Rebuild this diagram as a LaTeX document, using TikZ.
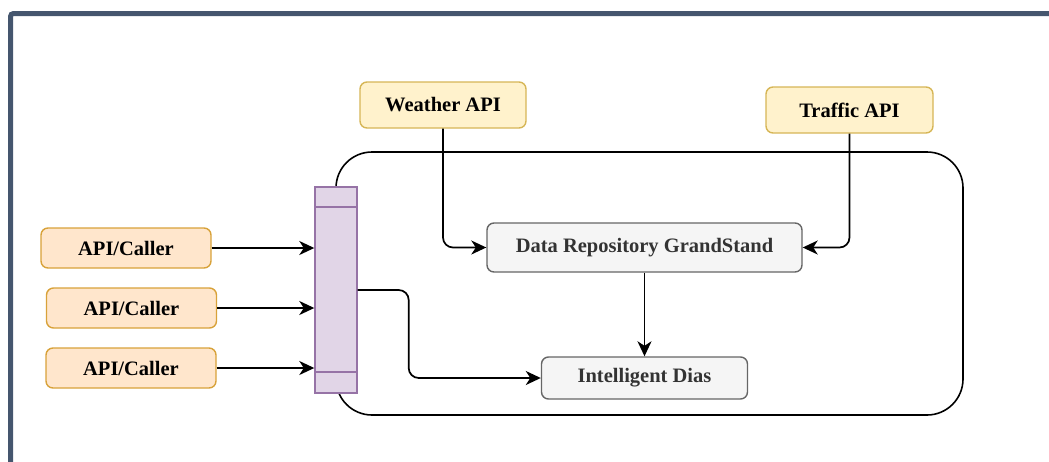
\documentclass[tikz,border=0pt]{standalone}
\usepackage{fontspec}
\setmainfont{Liberation Serif}
\usetikzlibrary{arrows.meta}
\definecolor{frameblue}{HTML}{45566E}
\definecolor{apifill}{HTML}{FFF2CC}
\definecolor{apistroke}{HTML}{D6B656}
\definecolor{callerfill}{HTML}{FFE6CC}
\definecolor{callerstroke}{HTML}{D8A23A}
\definecolor{gwfill}{HTML}{E1D5E7}
\definecolor{gwstroke}{HTML}{9673A6}
\definecolor{svcfill}{HTML}{F5F5F5}
\definecolor{svcstroke}{HTML}{666666}
\definecolor{svctext}{HTML}{333333}
\tikzset{
  box/.style={rectangle, rounded corners=7pt, line width=1.4pt, inner sep=0pt,
    font=\fontsize{20.5}{24}\selectfont\bfseries},
  extapi/.style={box, fill=apifill, draw=apistroke, text=black},
  caller/.style={box, fill=callerfill, draw=callerstroke, text=black,
    minimum width=170pt, minimum height=40pt},
  service/.style={box, fill=svcfill, draw=svcstroke, text=svctext},
  arr/.style={line width=1.7pt, rounded corners=10pt,
    -{Stealth[length=15pt, width=14pt, inset=4.5pt]}},
}
\begin{document}
\begin{tikzpicture}[x=1pt, y=-1pt]
  \useasboundingbox (0,0) rectangle (1049,461);
  % outer frame (runs off the right and bottom edges)
  \draw[frameblue, line width=5pt, rounded corners=3pt]
    (1060,13.5) -- (10.5,13.5) -- (10.5,470);
  % system boundary
  \draw[line width=1.6pt, rounded corners=36pt] (336,152) rectangle (963,415);
  % gateway bar
  \node[rectangle, fill=gwfill, draw=gwstroke, line width=1.4pt,
        minimum width=42pt, minimum height=206pt, inner sep=0pt]
        (bar) at (336,290) {};
  \draw[gwstroke, line width=1.4pt] (bar.west |- {(0,207)}) -- (bar.east |- {(0,207)});
  \draw[gwstroke, line width=1.4pt] (bar.west |- {(0,372)}) -- (bar.east |- {(0,372)});
  % external data sources
  \node[extapi, minimum width=166pt, minimum height=46pt] (weather) at (443,105) {Weather API};
  \node[extapi, minimum width=167pt, minimum height=46pt] (traffic) at (849.5,110) {Traffic API};
  % internal services
  \node[service, minimum width=315pt, minimum height=49pt] (data) at (644.5,247.5) {Data Repository GrandStand};
  \node[service, minimum width=206pt, minimum height=42pt] (intel) at (644.5,378) {Intelligent Dias};
  % callers
  \node[caller] (c1) at (126,248) {API/Caller};
  \node[caller] (c2) at (131.5,308) {API/Caller};
  \node[caller] (c3) at (131,368) {API/Caller};
  % connectors
  \draw[arr] (c1.east) -- (bar.west |- c1.east);
  \draw[arr] (c2.east) -- (bar.west |- c2.east);
  \draw[arr] (c3.east) -- (bar.west |- c3.east);
  \draw[arr] (weather.south) |- (data.west);
  \draw[arr] (traffic.south) |- (data.east);
  \draw[arr, rounded corners=0pt] (data.south) -- (intel.north);
  \draw[arr] (bar.east) -- ++(51,0) |- (intel.west);
\end{tikzpicture}
\end{document}
